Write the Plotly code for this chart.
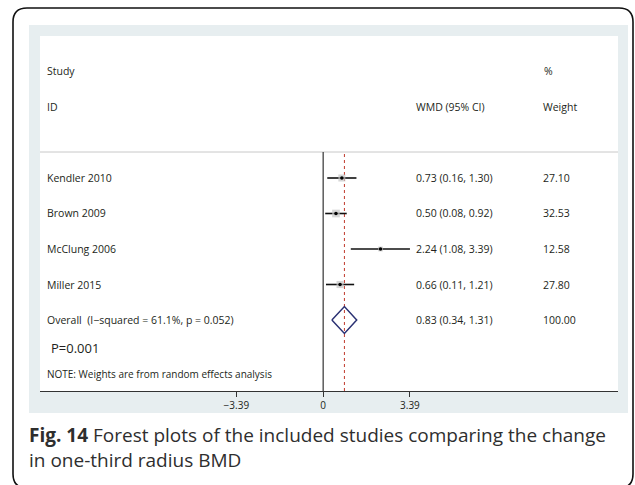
import plotly.graph_objects as go

# ---- data -------------------------------------------------------------
studies = ["Kendler 2010", "Brown 2009", "McClung 2006", "Miller 2015"]
wmd = [0.73, 0.50, 2.24, 0.66]
ci_low = [0.16, 0.08, 1.08, 0.11]
ci_high = [1.30, 0.92, 3.39, 1.21]
weights = [27.10, 32.53, 12.58, 27.80]

overall_label = "Overall  (I\u2212squared = 61.1%, p = 0.052)"
overall_wmd = 0.83
overall_low = 0.34
overall_high = 1.31
overall_weight = 100.00

p_text = "P=0.001"
note_text = "NOTE: Weights are from random effects analysis"
tick_vals = [-3.39, 0, 3.39]
tick_text = ["\u22123.39", "0", "3.39"]

# ---- canvas geometry (pixels) ----------------------------------------
W, H = 635, 485
FONT = "Open Sans"
TXT = "#231f20"


def px(x):
    return x / W


def py(y):
    return 1 - y / H


rows = list(range(len(studies)))
overall_row = len(studies)

fig = go.Figure()

# confidence intervals with weighted grey squares
fig.add_trace(go.Scatter(
    x=wmd, y=rows, mode="markers",
    marker=dict(symbol="square", color="#c4c4c4",
                size=[1.35 * w ** 0.5 for w in weights], line=dict(width=0)),
    error_x=dict(type="data", symmetric=False,
                 array=[h - m for h, m in zip(ci_high, wmd)],
                 arrayminus=[m - l for m, l in zip(wmd, ci_low)],
                 color="#111111", thickness=1.6, width=0),
    hoverinfo="skip", showlegend=False,
))
fig.add_trace(go.Scatter(
    x=wmd, y=rows, mode="markers",
    marker=dict(symbol="circle", color="#000000", size=3.5),
    hoverinfo="skip", showlegend=False,
))

# pooled estimate diamond
dh = 0.38
fig.add_trace(go.Scatter(
    x=[overall_low, overall_wmd, overall_high, overall_wmd, overall_low],
    y=[overall_row, overall_row - dh, overall_row, overall_row + dh, overall_row],
    mode="lines", line=dict(color="#2b3173", width=1.5),
    hoverinfo="skip", showlegend=False,
))

shapes = []

# outer rounded frame
x0, y0, x1, y1, r = 13, 8, 633, 488, 14
frame = (
    f"M {px(x0 + r)} {py(y0)} L {px(x1 - r)} {py(y0)} "
    f"Q {px(x1)} {py(y0)} {px(x1)} {py(y0 + r)} "
    f"L {px(x1)} {py(y1 - r)} Q {px(x1)} {py(y1)} {px(x1 - r)} {py(y1)} "
    f"L {px(x0 + r)} {py(y1)} Q {px(x0)} {py(y1)} {px(x0)} {py(y1 - r)} "
    f"L {px(x0)} {py(y0 + r)} Q {px(x0)} {py(y0)} {px(x0 + r)} {py(y0)} Z"
)
shapes.append(dict(type="path", xref="paper", yref="paper", path=frame,
                   line=dict(color="#111111", width=1.6), layer="below"))
# tinted panel and white plotting card
shapes.append(dict(type="rect", xref="paper", yref="paper",
                   x0=px(29), x1=px(628), y0=py(413), y1=py(25),
                   fillcolor="#e7eef0", line=dict(width=0), layer="below"))
shapes.append(dict(type="rect", xref="paper", yref="paper",
                   x0=px(40), x1=px(618), y0=py(391), y1=py(36),
                   fillcolor="#ffffff", line=dict(width=0), layer="below"))
# header separator
shapes.append(dict(type="line", xref="paper", yref="paper",
                   x0=px(40), x1=px(618), y0=py(152), y1=py(152),
                   line=dict(color="#c8c8c8", width=1), layer="below"))
# null line and pooled-estimate line
shapes.append(dict(type="line", xref="x", yref="paper",
                   x0=0, x1=0, y0=py(391), y1=py(152),
                   line=dict(color="#333333", width=1.2), layer="below"))
shapes.append(dict(type="line", xref="x", yref="paper",
                   x0=overall_wmd, x1=overall_wmd, y0=py(391), y1=py(152),
                   line=dict(color="#c0392b", width=1, dash="3px,3px"),
                   layer="below"))

annotations = []


def label(text, x, y, size=10.5, yref="y", color=TXT):
    annotations.append(dict(
        text=text, x=px(x), xref="paper", y=y, yref=yref,
        xanchor="left", yanchor="middle", showarrow=False, align="left",
        font=dict(family=FONT, size=size, color=color)))


# header
label("Study", 45, -3)
label("ID", 45, -2)
label("%", 542, -3)
label("WMD (95% CI)", 414, -2)
label("Weight", 541, -2)

# study rows
for i, name in enumerate(studies):
    label(name, 45, i)
    label(f"{wmd[i]:.2f} ({ci_low[i]:.2f}, {ci_high[i]:.2f})", 414, i)
    label(f"{weights[i]:.2f}", 541, i)

label(overall_label, 45, overall_row)
label(f"{overall_wmd:.2f} ({overall_low:.2f}, {overall_high:.2f})", 414, overall_row)
label(f"{overall_weight:.2f}", 541, overall_row)

label(p_text, 49, py(348), size=13, yref="paper")
label(note_text, 45, py(374), size=10, yref="paper")

# caption
label("<b>Fig. 14</b> Forest plots of the included studies comparing the change",
      27, py(435), size=19, yref="paper", color="#2e2e2e")
label("in one-third radius BMD", 27, py(460), size=19, yref="paper",
      color="#2e2e2e")

fig.update_layout(
    width=W, height=H,
    margin=dict(l=0, r=0, t=0, b=0),
    paper_bgcolor="#ffffff",
    plot_bgcolor="rgba(0,0,0,0)",
    shapes=shapes,
    annotations=annotations,
    xaxis=dict(domain=[px(40), px(618)], range=[-11.06, 11.516],
               showgrid=False, zeroline=False, showline=True,
               linecolor="#333333", linewidth=1.2,
               ticks="outside", ticklen=5, tickcolor="#333333",
               tickvals=tick_vals, ticktext=tick_text,
               tickfont=dict(family=FONT, size=10, color=TXT)),
    yaxis=dict(domain=[py(391), py(36)], range=[6, -4], visible=False),
)

fig.write_html("out.html")
